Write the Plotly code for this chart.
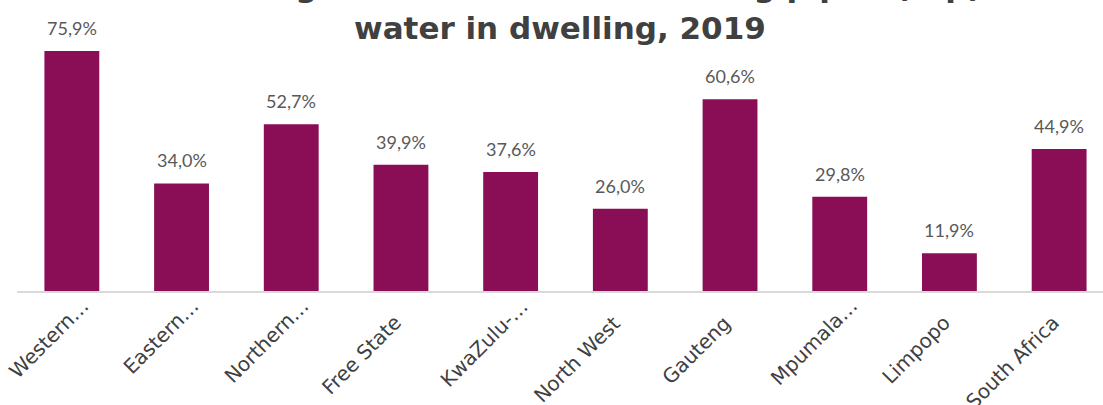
import plotly.graph_objects as go

categories = ["Western…", "Eastern…", "Northern…", "Free State", "KwaZulu-…",
              "North West", "Gauteng", "Mpumala…", "Limpopo", "South Africa"]
values = [75.9, 34.0, 52.7, 39.9, 37.6, 26.0, 60.6, 29.8, 11.9, 44.9]
value_labels = ["75,9%", "34,0%", "52,7%", "39,9%", "37,6%",
                "26,0%", "60,6%", "29,8%", "11,9%", "44,9%"]
title_lines = ["Percentage of households accessing piped (tap)",
               "water in dwelling, 2019"]

FONT = "Century Gothic, Lato, sans-serif"
WIDE = "Century Gothic, DejaVu Sans, sans-serif"
BAR = "#8A0E56"

fig = go.Figure()
fig.add_trace(go.Bar(
    x=categories, y=values,
    marker=dict(color=BAR, line=dict(width=0)),
    hoverinfo="skip",
))

for c, v, t in zip(categories, values, value_labels):
    fig.add_annotation(x=c, y=v, xref="x", yref="y", text=t, showarrow=False,
                       yanchor="middle", yshift=23,
                       font=dict(family=FONT, size=18, color="#595959"))

# category labels, rotated like the original (truncated ones sit a bit further out)
for c in categories:
    trunc = c.endswith("…")
    fig.add_annotation(x=c, y=0, xref="x", yref="y", text=c, showarrow=False,
                       xanchor="right", yanchor="top", textangle=-45,
                       xshift=25 if trunc else 8, yshift=0 if trunc else -17,
                       font=dict(family=WIDE, size=20, color="#404040"))

fig.add_annotation(
    x=0.5, xref="paper", y=1.128, yref="paper",
    xanchor="center", yanchor="bottom", showarrow=False,
    text="<b>" + title_lines[0] + "</b>",
    font=dict(family=WIDE, size=31, color="#404040"),
)
fig.add_annotation(
    x=0.5, xref="paper", y=0.962, yref="paper",
    xanchor="center", yanchor="bottom", showarrow=False,
    text="<b>" + title_lines[1] + "</b>",
    font=dict(family=WIDE, size=31, color="#404040"),
)

fig.update_layout(
    width=1103, height=405,
    margin=dict(l=17, r=0, t=38, b=114),
    paper_bgcolor="white", plot_bgcolor="white",
    bargap=0.5, showlegend=False,
    xaxis=dict(range=[-0.5, 9.4], showgrid=False, zeroline=False,
               automargin=False, showticklabels=False,
               showline=True, linecolor="#D9D9D9", linewidth=1.5, ticks=""),
    yaxis=dict(range=[0, 80], visible=False, showgrid=False, zeroline=False,
               automargin=False),
)

fig.write_html("out.html", config={"displayModeBar": False},
               post_script="document.body.style.margin='0';")
